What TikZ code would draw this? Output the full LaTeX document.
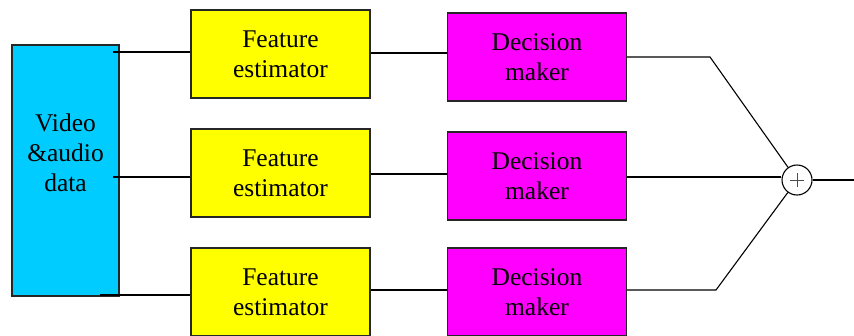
\documentclass[tikz,border=0pt]{standalone}
\usepackage{fontspec}
\setmainfont{Liberation Serif}
\definecolor{cblue}{HTML}{00CCFF}
\definecolor{cyel}{HTML}{FFFF00}
\definecolor{cmag}{HTML}{FF00FF}
\begin{document}
\begin{tikzpicture}[x=1pt,y=-1pt,
  txt/.style={align=center, font=\fontsize{25.5}{30}\selectfont},
  boxstyle/.style={txt, draw=black!85, line width=1.3pt, minimum width=179pt, minimum height=88pt, inner sep=0pt},
  featbox/.style={boxstyle, fill=cyel},
  decbox/.style={boxstyle, fill=cmag},
  wire/.style={draw=black, line width=1.1pt}]
\useasboundingbox (0,0) rectangle (854,335);
\clip (0,0) rectangle (854,335);
\node[draw=black!85, line width=1.3pt, fill=cblue, minimum width=107pt, minimum height=251pt, inner sep=0pt] (src) at (65.5,170.5) {};
\node[txt] (srctext) at (65.5,153) {Video\\\&audio\\data};
\node[featbox] (f1) at (280.5,54) {Feature\\estimator};
\node[featbox] (f2) at (280.5,173) {Feature\\estimator};
\node[featbox] (f3) at (280.5,292) {Feature\\estimator};
\node[decbox] (d1) at (537,57) {Decision\\maker};
\node[decbox] (d2) at (537,176) {Decision\\maker};
\node[decbox] (d3) at (537,292) {Decision\\maker};
\node[draw, circle, line width=1.1pt, minimum size=30pt, inner sep=0pt, fill=white] (sum) at (797,180) {};
\draw[line width=0.6pt, black!70] ([xshift=-7pt]sum.center) -- ([xshift=7pt]sum.center) ([yshift=-7pt]sum.center) -- ([yshift=7pt]sum.center);
\coordinate (s1) at (113,52);
\coordinate (s2) at (113,177);
\coordinate (s3) at (100,295);
\draw[wire] (s1) -- (s1 -| f1.west);
\draw[wire] (s2) -- (s2 -| f2.west);
\draw[wire] (s3) -- (s3 -| f3.west);
\coordinate (m1) at (371,53);
\coordinate (m2) at (371,174);
\coordinate (m3) at (371,290);
\draw[wire] (m1) -- (m1 -| d1.west);
\draw[wire] (m2) -- (m2 -| d2.west);
\draw[wire] (m3) -- (m3 -| d3.west);
\coordinate (k1) at (710,57);
\coordinate (k3) at (716,290);
\coordinate (out) at (854,180);
\draw[wire] (k1 -| d1.east) -- (k1) -- (sum);
\draw[wire] (d2.east |- 0,177) -- (sum.west |- 0,177);
\draw[wire] (k3 -| d3.east) -- (k3) -- (sum);
\draw[wire] (sum.east) -- (out);
\end{tikzpicture}
\end{document}
